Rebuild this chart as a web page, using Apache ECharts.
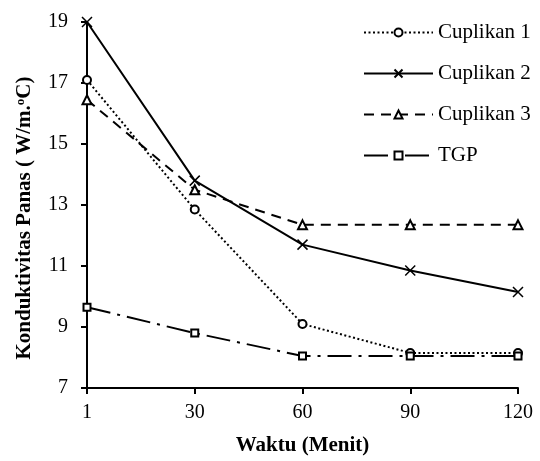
<!DOCTYPE html>
<html>
<head>
<meta charset="utf-8">
<script src="https://cdn.jsdelivr.net/npm/echarts@6/dist/echarts.min.js"></script>
<style>
html,body{margin:0;padding:0;background:#fff;}
#chart{width:540px;height:461px;}
</style>
</head>
<body>
<div id="chart"></div>
<script>
var categories = ['1', '30', '60', '90', '120'];
var cuplikan1 = [17.1, 12.85, 9.1, 8.15, 8.15];
var cuplikan2 = [19.0, 13.8, 11.7, 10.85, 10.15];
var cuplikan3 = [16.45, 13.5, 12.35, 12.35, 12.35];
var tgp = [9.65, 8.8, 8.05, 8.05, 8.05];
var seriesNames = ['Cuplikan 1', 'Cuplikan 2', 'Cuplikan 3', 'TGP'];
var xTitle = 'Waktu (Menit)';

var FONT = '"Liberation Serif", "Times New Roman", serif';
var chart = echarts.init(document.getElementById('chart'), null, {renderer: 'canvas'});

function mk(name, data, symbol, size, lineType, width) {
  return {
    name: name,
    type: 'line',
    data: data,
    symbol: symbol,
    symbolSize: size,
    showAllSymbol: true,
    z: 3,
    lineStyle: {color: '#000', width: width, type: lineType},
    itemStyle: {color: '#000', borderColor: '#000', borderWidth: 1.5},
    emphasis: {disabled: true}
  };
}

var option = {
  backgroundColor: '#fff',
  animation: false,
  grid: {left: 87, right: 22, top: 22, bottom: 69, containLabel: false},
  xAxis: {
    type: 'category',
    data: categories,
    boundaryGap: false,
    name: xTitle,
    nameLocation: 'middle',
    nameGap: 47,
    nameTextStyle: {fontFamily: FONT, fontSize: 21, fontWeight: 'bold', color: '#000'},
    axisLine: {show: true, lineStyle: {color: '#000', width: 2}},
    axisTick: {show: true, inside: false, length: 6, lineStyle: {color: '#000', width: 2}},
    axisLabel: {fontFamily: FONT, fontSize: 20, color: '#000', margin: 15},
    splitLine: {show: false}
  },
  yAxis: {
    type: 'value',
    min: 7,
    max: 19,
    interval: 2,
    axisLine: {show: true, lineStyle: {color: '#000', width: 2}},
    axisTick: {show: true, inside: false, length: 6, lineStyle: {color: '#000', width: 2}},
    axisLabel: {fontFamily: FONT, fontSize: 20, color: '#000', margin: 19},
    splitLine: {show: false}
  },
  legend: {
    orient: 'vertical',
    left: 363,
    top: 22,
    padding: 0,
    itemWidth: 69,
    itemHeight: 10,
    itemGap: 20,
    data: seriesNames,
    textStyle: {fontFamily: FONT, fontSize: 21, color: '#000', lineHeight: 20}
  },
  graphic: [{
    type: 'text',
    x: 25,
    y: 218,
    rotation: Math.PI / 2,
    style: {
      text: 'Konduktivitas Panas ( W/m.{sup|o}C)',
      fontFamily: FONT,
      fontSize: 21,
      fontWeight: 'bold',
      fill: '#000',
      align: 'center',
      verticalAlign: 'middle',
      rich: {
        sup: {fontFamily: FONT, fontSize: 13, fontWeight: 'bold', fill: '#000', verticalAlign: 'top', padding: [0, 0, 9, 0]}
      }
    }
  }],
  series: [
    mk(seriesNames[0], cuplikan1, 'emptyCircle', 8, [2, 2.5], 2),
    mk(seriesNames[1], cuplikan2, 'path://M0,0L10,10M10,0L0,10', 10, 'solid', 2),
    mk(seriesNames[2], cuplikan3, 'emptyTriangle', 9, [10, 7], 2),
    mk(seriesNames[3], tgp, 'emptyRect', 7, [24, 7, 3, 7], 2)
  ]
};
chart.setOption(option);
</script>
</body>
</html>
